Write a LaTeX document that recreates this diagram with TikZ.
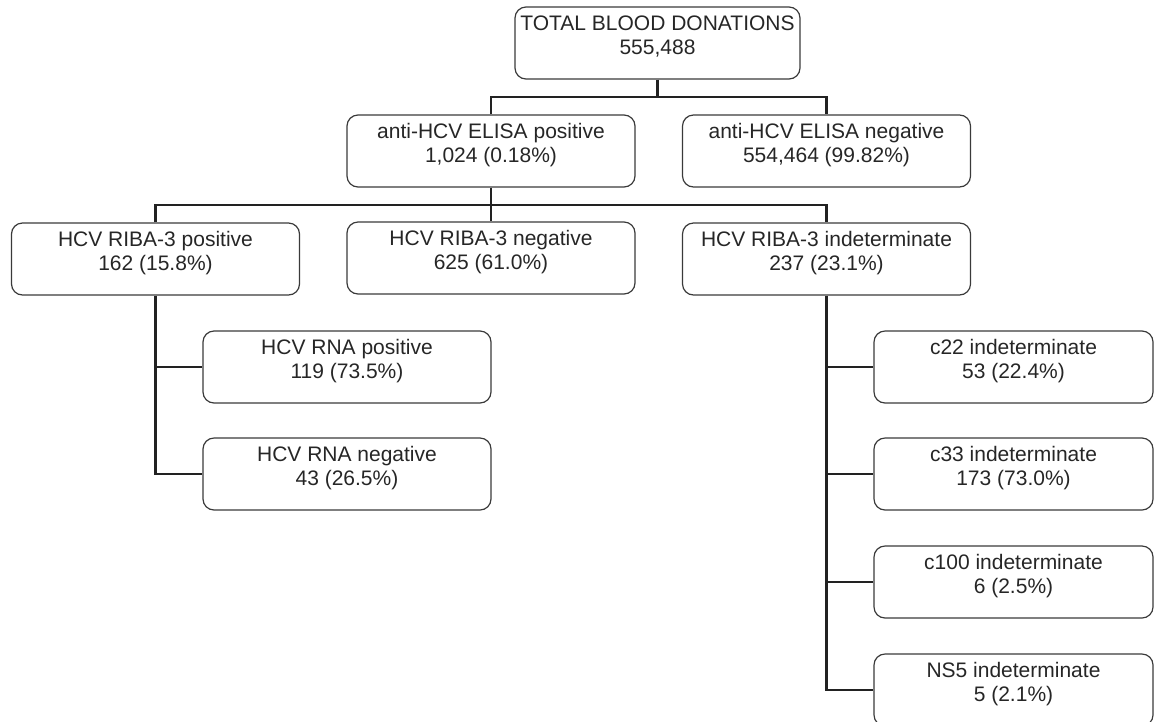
\documentclass[tikz,border=0pt]{standalone}
\usepackage{fontspec}
\setmainfont{Liberation Sans}
\definecolor{boxc}{HTML}{3A3A3A}
\definecolor{txtc}{HTML}{262626}
\definecolor{linec}{HTML}{222222}
\tikzset{
  box/.style={draw=boxc, line width=1.2pt, rounded corners=11pt, minimum width=288pt, minimum height=72pt, inner sep=0pt},
  totbox/.style={box, minimum width=285pt},
  cbox/.style={box, minimum width=279pt},
  txt/.style={align=center, font=\fontsize{21}{24}\selectfont, text=txtc, inner sep=0pt},
  conn/.style={draw=linec, line width=2.6pt},
  thinconn/.style={draw=linec, line width=2.1pt},
}
\begin{document}
\begin{tikzpicture}[x=1pt, y=-1pt]
\useasboundingbox (0,0) rectangle (1155,721);
% boxes
\node[totbox] (total) at (657.5,43) {};
\node[box] (elisapos) at (491,151) {};
\node[box] (elisaneg) at (826.5,151) {};
\node[box] (ribapos) at (155.5,259) {};
\node[box] (ribaneg) at (491,258)  {};
\node[box] (ribaind) at (826.5,259) {};
\node[box] (rnapos)  at (347,367)  {};
\node[box] (rnaneg)  at (347,474)  {};
\node[cbox] (c22)    at (1013.5,367) {};
\node[cbox] (c33)    at (1013.5,474) {};
\node[cbox] (c100)   at (1013.5,582) {};
\node[cbox] (ns5)    at (1013.5,690) {};
% texts
\node[txt] (ttotal)    at ([yshift=-30.5pt]total.north)    {TOTAL BLOOD DONATIONS\\555,488};
\node[txt] (telisapos) at ([yshift=-30.5pt]elisapos.north) {anti-HCV ELISA positive\\1,024 (0.18\%)};
\node[txt] (telisaneg) at ([yshift=-30.5pt]elisaneg.north) {anti-HCV ELISA negative\\554,464 (99.82\%)};
\node[txt] (tribapos)  at ([yshift=-30.5pt]ribapos.north)  {HCV RIBA-3 positive\\162 (15.8\%)};
\node[txt] (tribaneg)  at ([yshift=-30.5pt]ribaneg.north)  {HCV RIBA-3 negative\\625 (61.0\%)};
\node[txt] (tribaind)  at ([yshift=-30.5pt]ribaind.north)  {HCV RIBA-3 indeterminate\\237 (23.1\%)};
\node[txt] (trnapos)   at ([yshift=-30.5pt]rnapos.north)   {HCV RNA positive\\119 (73.5\%)};
\node[txt] (trnaneg)   at ([yshift=-30.5pt]rnaneg.north)   {HCV RNA negative\\43 (26.5\%)};
\node[txt] (tc22)      at ([yshift=-30.5pt]c22.north)      {c22 indeterminate\\53 (22.4\%)};
\node[txt] (tc33)      at ([yshift=-30.5pt]c33.north)      {c33 indeterminate\\173 (73.0\%)};
\node[txt] (tc100)     at ([yshift=-30.5pt]c100.north)     {c100 indeterminate\\6 (2.5\%)};
\node[txt] (tns5)      at ([yshift=-30.5pt]ns5.north)      {NS5 indeterminate\\5 (2.1\%)};
% buses
\coordinate (bus1) at (657.5,97);
\coordinate (bus2) at (491,205);
% connectors
\draw[conn] (total.south) -- (bus1);
\draw[conn] (elisapos.north) |- (bus1) -| (elisaneg.north);
\draw[conn] (ribapos.north) |- (bus2) -| (ribaind.north);
\draw[conn] (elisapos.south) -- (ribaneg.north);
\draw[conn] (ribapos.south) |- (rnaneg.west);
\draw[thinconn] (ribapos.south |- rnapos.west) -- (rnapos.west);
\draw[conn] (ribaind.south) |- (ns5.west);
\draw[thinconn] (ribaind.south |- c22.west) -- (c22.west);
\draw[thinconn] (ribaind.south |- c33.west) -- (c33.west);
\draw[thinconn] (ribaind.south |- c100.west) -- (c100.west);
\end{tikzpicture}
\end{document}
